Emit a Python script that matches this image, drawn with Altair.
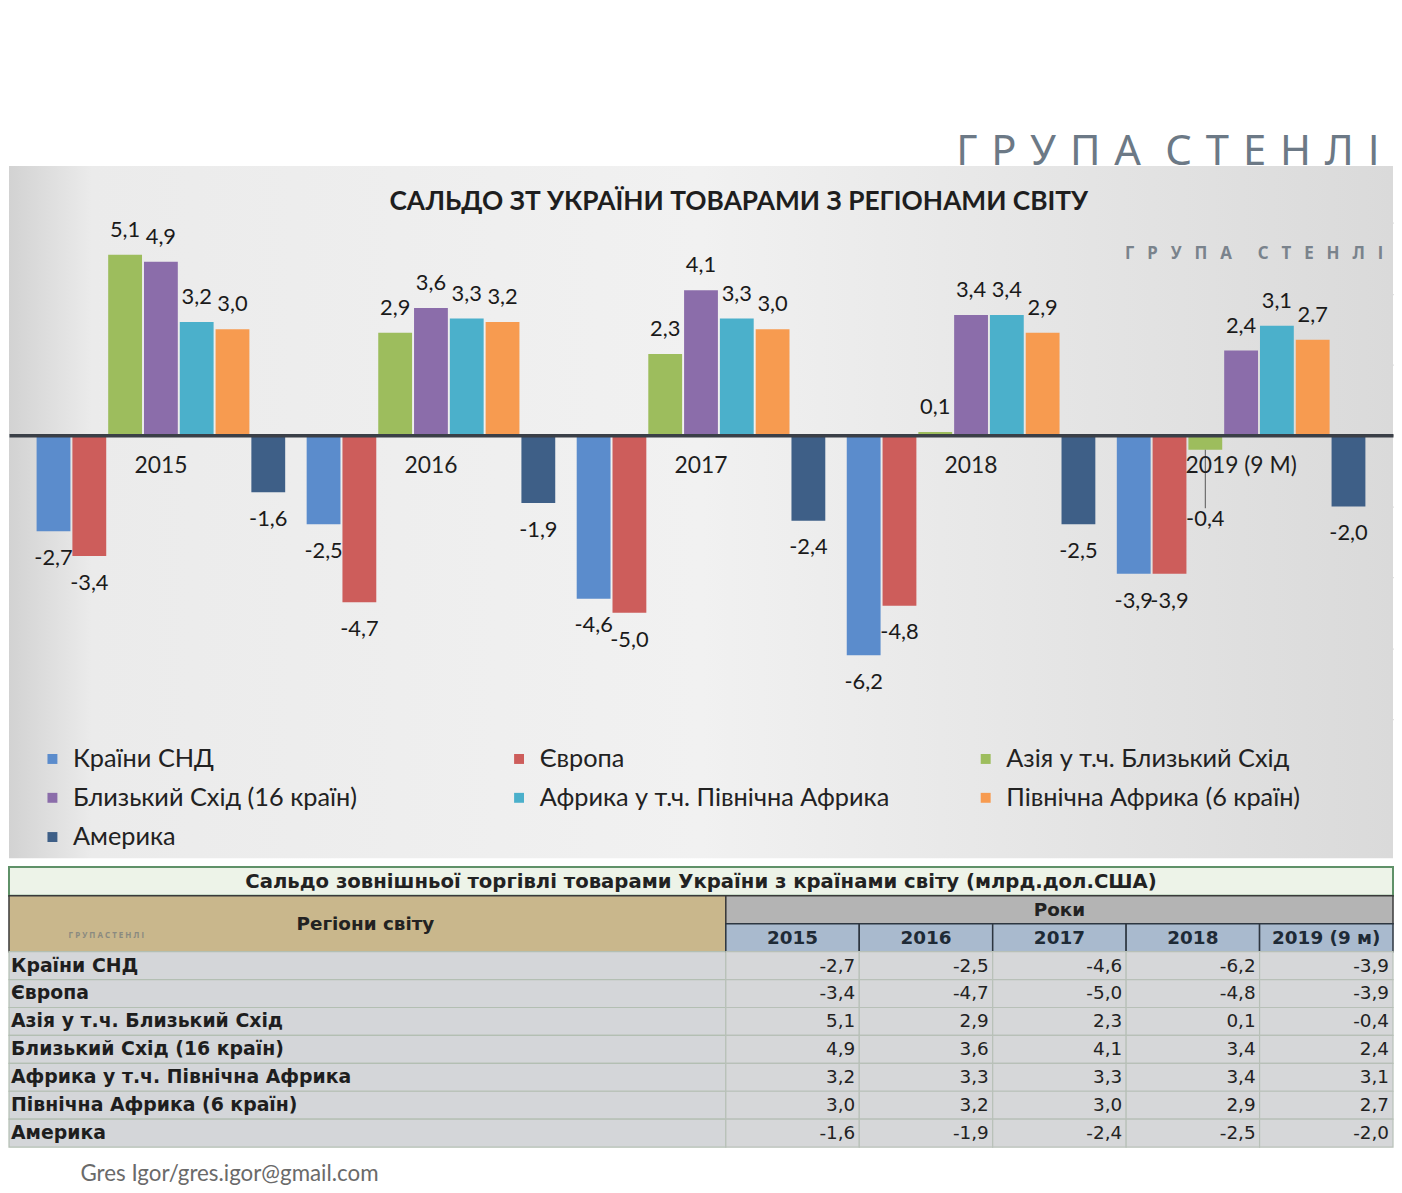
import altair as alt
import pandas as pd

# ---------------- data ----------------
years = ["2015", "2016", "2017", "2018", "2019 (9 M)"]
table_years = ["2015", "2016", "2017", "2018", "2019 (9 м)"]
regions = [
    "Країни СНД",
    "Європа",
    "Азія у т.ч. Близький Схід",
    "Близький Схід (16 країн)",
    "Африка у т.ч. Північна Африка",
    "Північна Африка (6 країн)",
    "Америка",
]
cis = [-2.7, -2.5, -4.6, -6.2, -3.9]
europe = [-3.4, -4.7, -5.0, -4.8, -3.9]
asia = [5.1, 2.9, 2.3, 0.1, -0.4]
middle_east = [4.9, 3.6, 4.1, 3.4, 2.4]
africa = [3.2, 3.3, 3.3, 3.4, 3.1]
north_africa = [3.0, 3.2, 3.0, 2.9, 2.7]
america = [-1.6, -1.9, -2.4, -2.5, -2.0]
series = [cis, europe, asia, middle_east, africa, north_africa, america]
colors = ["#5b8ccc", "#cd5d5b", "#9dbd5d", "#8b6daa", "#4bb0cb", "#f79b50", "#3e5f87"]

chart_title = "САЛЬДО ЗТ УКРАЇНИ ТОВАРАМИ З РЕГІОНАМИ СВІТУ"
table_title = "Сальдо зовнішньої торгівлі товарами України з країнами світу (млрд.дол.США)"
gap_big = "\u2004"
big_logo = gap_big.join(list("ГРУПА")) + "\u2004\u2005" + gap_big.join(list("СТЕНЛІ"))
gap_small = "\u2002\u2009\u200a"
small_logo = gap_small.join(list("ГРУПА")) + gap_small * 2 + gap_small.join(list("СТЕНЛІ"))
tiny_logo = " ".join(list("ГРУПА")) + "   " + " ".join(list("СТЕНЛІ"))
author = "Gres Igor/gres.igor@gmail.com"

rows = []
for i, (r, vals) in enumerate(zip(regions, series)):
    for y, ty, v in zip(years, table_years, vals):
        rows.append({"region": r, "year": y, "tyear": ty, "value": v,
                     "row": i + 2, "row_end": i + 3, "row_mid": i + 2.5})
df = pd.DataFrame(rows)
reg_df = pd.DataFrame({"region": regions,
                       "row": [i + 2 for i in range(len(regions))],
                       "row_end": [i + 3 for i in range(len(regions))],
                       "row_mid": [i + 2.5 for i in range(len(regions))]})

LAB = "(datum.value < 0 ? '-' : '') + replace(format(abs(datum.value), '.1f'), '.', ',')"

W = 1394
CH = 697
HEAD = 155
LEFTW = 722

# ---------------- header (logo text) ----------------
header = alt.Chart(pd.DataFrame({"t": [big_logo]})).mark_text(
    font="Noto Sans", fontSize=42, color="#6c7986", align="left", baseline="alphabetic"
).encode(x=alt.value(954), y=alt.value(154), text="t:N").properties(width=W, height=HEAD)

# ---------------- bar chart ----------------
yscale = alt.Scale(domain=[-11.92, 7.6], nice=False, zero=False)
xscale = alt.Scale(domain=years, paddingInner=0, paddingOuter=0.0625)
oscale = alt.Scale(domain=regions, paddingInner=0.055, paddingOuter=0.3)

bg = alt.Chart(pd.DataFrame({"a": [0]})).mark_rect(
    fill=alt.LinearGradient(
        gradient="linear", x1=0, y1=0, x2=1, y2=0,
        stops=[alt.GradientStop(offset=0, color="#d2d2d2"),
               alt.GradientStop(offset=0.06, color="#ebebeb"),
               alt.GradientStop(offset=0.5, color="#f1f1f1"),
               alt.GradientStop(offset=1, color="#dadada")])
).encode(x=alt.value(0), x2=alt.value("width"), y=alt.value(0), y2=alt.value("height"))

base = alt.Chart(df)

bars = base.mark_bar().encode(
    x=alt.X("year:N", sort=years, scale=xscale,
            axis=alt.Axis(orient="bottom", offset=-426, title=None, ticks=False,
                          domainColor="#3a3f47", domainWidth=3.5, labelPadding=20,
                          labelFontSize=23, labelColor="#1e1e1e", labelFont="Lato",
                          labelAngle=0, zindex=1)),
    xOffset=alt.XOffset("region:N", sort=regions, scale=oscale),
    y=alt.Y("value:Q", scale=yscale,
            axis=alt.Axis(values=[-8, -6, -4, -2, 0, 2, 4, 6], grid=True, labels=False,
                          ticks=False, domain=False, title=None,
                          gridColor="#c4c4c4", gridWidth=1.3)),
    color=alt.Color("region:N", sort=regions,
                    scale=alt.Scale(domain=regions, range=colors),
                    legend=alt.Legend(orient="none", legendX=31, legendY=HEAD + 584, columns=3,
                                      direction="horizontal",
                                      title=None, symbolType="square", symbolSize=100,
                                      labelFontSize=25.5, labelColor="#222222", labelFont="Lato",
                                      labelLimit=600,
                                      columnPadding=84, rowPadding=12.5, gridAlign="all",
                                      labelOffset=8, symbolStrokeWidth=0)),
)

pos_labels = base.transform_filter("datum.value >= 0").transform_calculate(
    lab=LAB
).mark_text(font="Lato", fontSize=22, color="#1a1a1a", dy=-25, baseline="middle").encode(
    x=alt.X("year:N", sort=years, scale=xscale),
    xOffset=alt.XOffset("region:N", sort=regions, scale=oscale),
    y=alt.Y("value:Q", scale=yscale),
    text="lab:N",
)

neg_labels = base.transform_filter("datum.value < 0").transform_calculate(
    lab=LAB, ly="datum.value > -1 ? -1.6 : datum.value"
).mark_text(font="Lato", fontSize=22, color="#1a1a1a", dy=27, baseline="middle").encode(
    x=alt.X("year:N", sort=years, scale=xscale),
    xOffset=alt.XOffset("region:N", sort=regions, scale=oscale),
    y=alt.Y("ly:Q", scale=yscale),
    text="lab:N",
)

# leader line for the label moved below the category labels
leader = base.transform_filter("datum.value < 0 && datum.value > -1").transform_calculate(
    ly2="-2.05"
).mark_rule(color="#555555", strokeWidth=1).encode(
    x=alt.X("year:N", sort=years, scale=xscale),
    xOffset=alt.XOffset("region:N", sort=regions, scale=oscale),
    y=alt.Y("value:Q", scale=yscale),
    y2="ly2:Q",
)

title_text = alt.Chart(pd.DataFrame({"t": [chart_title]})).mark_text(
    font="Lato", fontSize=26.5, fontWeight="bold", color="#1e1e1e", baseline="alphabetic"
).encode(x=alt.value(735), y=alt.value(44), text="t:N")

inner_logo = alt.Chart(pd.DataFrame({"t": [small_logo]})).mark_text(
    font="Noto Sans", fontSize=17, fontWeight="bold", color="#7a838c",
    align="left", baseline="middle"
).encode(x=alt.value(1124), y=alt.value(89), text="t:N")

bar_chart = alt.layer(bg, bars, leader, pos_labels, neg_labels, title_text, inner_logo).properties(
    width=W, height=CH,
)

# ---------------- table ----------------
TF = "DejaVu Sans"
rowscale = alt.Scale(domain=[0, 9], reverse=True, nice=False, zero=False)
colscale = alt.Scale(domain=table_years, range=[LEFTW, W], paddingInner=0, paddingOuter=0)

title_strip = alt.layer(
    alt.Chart(pd.DataFrame({"a": [0]})).mark_rect(
        fill="#edf3e8", stroke="#5f9168", strokeWidth=2
    ).encode(x=alt.value(0), x2=alt.value("width"), y=alt.value(9), y2=alt.value("height")),
    alt.Chart(pd.DataFrame({"t": [table_title]})).mark_text(
        font=TF, fontSize=19.8, fontWeight="bold", color="#222222", baseline="middle"
    ).encode(x=alt.value(W / 2), y=alt.value(24), text="t:N"),
).properties(width=W, height=38)

hdr_df = pd.DataFrame({"y0": [0], "y1": [2], "mid": [1], "t": ["Регіони світу"]})
yr_df = pd.DataFrame({"tyear": table_years, "y0": [1] * 5, "y1": [2] * 5, "mid": [1.5] * 5})
roky_df = pd.DataFrame({"y0": [0], "y1": [1], "mid": [0.5], "t": ["Роки"]})

table_body = alt.layer(
    # left header
    alt.Chart(hdr_df).mark_rect(fill="#c9b78c", stroke="#3a3a3a", strokeWidth=1.5).encode(
        x=alt.value(0), x2=alt.value(LEFTW),
        y=alt.Y("y0:Q", scale=rowscale, axis=None), y2="y1:Q"),
    alt.Chart(hdr_df).mark_text(font=TF, fontSize=18.5, fontWeight="bold", color="#222222",
                                baseline="middle").encode(
        x=alt.value(359), y=alt.Y("mid:Q", scale=rowscale, axis=None), text="t:N"),
    alt.Chart(pd.DataFrame({"t": [tiny_logo], "mid": [1.45]})).mark_text(
        font="Noto Sans", fontSize=8, fontWeight="bold", color="#8a8a80", baseline="middle"
    ).encode(x=alt.value(98), y=alt.Y("mid:Q", scale=rowscale, axis=None), text="t:N"),
    # region rows
    alt.Chart(reg_df).mark_rect(fill="#d4d6d9", stroke="#b3bfb3", strokeWidth=1.2).encode(
        x=alt.value(0), x2=alt.value(LEFTW),
        y=alt.Y("row:Q", scale=rowscale, axis=None), y2="row_end:Q"),
    alt.Chart(reg_df).mark_text(font=TF, fontSize=19, fontWeight="bold", color="#1e1e1e",
                                align="left", baseline="middle").encode(
        x=alt.value(2), y=alt.Y("row_mid:Q", scale=rowscale, axis=None), text="region:N"),
    # years header
    alt.Chart(roky_df).mark_rect(fill="#b4b4b4", stroke="#3a3a3a", strokeWidth=1.5).encode(
        x=alt.value(LEFTW), x2=alt.value("width"),
        y=alt.Y("y0:Q", scale=rowscale, axis=None), y2="y1:Q"),
    alt.Chart(roky_df).mark_text(font=TF, fontSize=18.5, fontWeight="bold", color="#222222",
                                 baseline="middle").encode(
        x=alt.value(LEFTW + 336), y=alt.Y("mid:Q", scale=rowscale, axis=None), text="t:N"),
    alt.Chart(yr_df).mark_rect(fill="#a9bace", stroke="#2d3640", strokeWidth=1.5).encode(
        x=alt.X("tyear:N", sort=table_years, scale=colscale, axis=None),
        y=alt.Y("y0:Q", scale=rowscale, axis=None), y2="y1:Q"),
    alt.Chart(yr_df).mark_text(font=TF, fontSize=18.5, fontWeight="bold", color="#1e2a36",
                               baseline="middle").encode(
        x=alt.X("tyear:N", sort=table_years, scale=colscale, axis=None),
        y=alt.Y("mid:Q", scale=rowscale, axis=None), text="tyear:N"),
    # value cells
    alt.Chart(df).mark_rect(fill="#d6d7d9", stroke="#b8c0b8", strokeWidth=1.2).encode(
        x=alt.X("tyear:N", sort=table_years, scale=colscale, axis=None),
        y=alt.Y("row:Q", scale=rowscale, axis=None), y2="row_end:Q"),
    alt.Chart(df).transform_calculate(lab=LAB).mark_text(
        font=TF, fontSize=18.5, color="#222222", align="right", baseline="middle", dx=-4
    ).encode(
        x=alt.X("tyear:N", sort=table_years, scale=colscale, axis=None, bandPosition=1),
        y=alt.Y("row_mid:Q", scale=rowscale, axis=None), text="lab:N"),
).properties(width=W, height=253)

footer = alt.Chart(pd.DataFrame({"t": [author]})).mark_text(
    font="Lato", fontSize=22.5, color="#6a6a6a", align="left", baseline="middle"
).encode(x=alt.value(72), y=alt.value(27), text="t:N").properties(width=W, height=34)

chart = alt.vconcat(header, bar_chart, title_strip, table_body, footer,
                    spacing=0, bounds="flush").properties(
    padding=0, background="white"
).configure_view(stroke="transparent", strokeWidth=0)

chart.save("out.html", embed_options={"renderer": "svg", "actions": False})
